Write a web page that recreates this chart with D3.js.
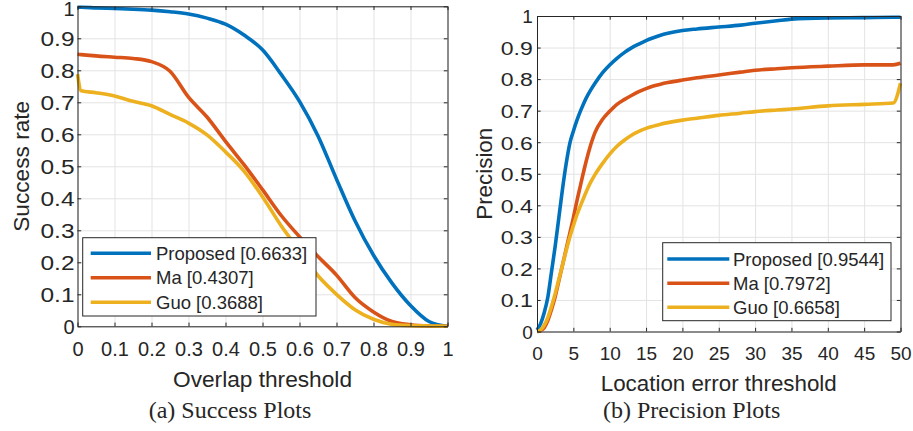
<!DOCTYPE html>
<html>
<head>
<meta charset="utf-8">
<script src="https://cdn.jsdelivr.net/npm/d3@7/dist/d3.min.js"></script>
<style>
  html, body { margin: 0; padding: 0; background: #fff; }
  svg { display: block; }
  text { fill: #262626; }
</style>
</head>
<body>
<svg id="chart" width="913" height="431"></svg>
<script>
// ---------- DATA ----------
const seriesNames = ["Proposed", "Ma", "Guo"];
const successAUC = ["0.6633", "0.4307", "0.3688"];
const precisionScore = ["0.9544", "0.7972", "0.6658"];

const overlapThresholds = [0, 0.01, 0.05, 0.1, 0.15, 0.2, 0.25, 0.3, 0.35, 0.4, 0.45, 0.5, 0.55, 0.6, 0.65, 0.7, 0.75, 0.8, 0.85, 0.9, 0.95, 1.0];
const successProposed = [0.997, 0.997, 0.995, 0.993, 0.991, 0.988, 0.983, 0.976, 0.963, 0.944, 0.910, 0.864, 0.788, 0.703, 0.595, 0.460, 0.330, 0.222, 0.135, 0.065, 0.015, 0.0];
const successMa       = [0.850, 0.849, 0.845, 0.841, 0.837, 0.827, 0.797, 0.716, 0.654, 0.578, 0.505, 0.427, 0.347, 0.280, 0.218, 0.160, 0.090, 0.045, 0.015, 0.005, 0.001, 0.0];
const successGuo      = [0.788, 0.736, 0.730, 0.720, 0.703, 0.689, 0.662, 0.635, 0.598, 0.545, 0.485, 0.405, 0.315, 0.236, 0.158, 0.100, 0.052, 0.022, 0.006, 0.002, 0.001, 0.0];

const errorThresholds = [0, 0.5, 1, 1.5, 2, 2.5, 3, 3.5, 4, 4.5, 5, 5.5, 6, 6.5, 7, 7.5, 8, 9, 10, 11, 12, 13, 14, 15, 16, 17, 18, 20, 22, 25, 28, 30, 33, 35, 40, 45, 49, 50];
const precisionProposed = [0.005, 0.025, 0.06, 0.11, 0.19, 0.27, 0.36, 0.45, 0.53, 0.595, 0.635, 0.67, 0.70, 0.727, 0.75, 0.77, 0.788, 0.82, 0.845, 0.866, 0.884, 0.899, 0.911, 0.922, 0.931, 0.939, 0.945, 0.954, 0.959, 0.965, 0.971, 0.977, 0.985, 0.99, 0.994, 0.995, 0.996, 0.996];
const precisionMa       = [0, 0.003, 0.012, 0.035, 0.07, 0.11, 0.16, 0.21, 0.26, 0.31, 0.36, 0.415, 0.465, 0.515, 0.56, 0.6, 0.632, 0.672, 0.698, 0.72, 0.735, 0.748, 0.76, 0.77, 0.778, 0.784, 0.789, 0.797, 0.804, 0.813, 0.822, 0.828, 0.833, 0.836, 0.841, 0.845, 0.845, 0.85];
const precisionGuo      = [0, 0.005, 0.02, 0.045, 0.08, 0.12, 0.165, 0.21, 0.255, 0.298, 0.335, 0.37, 0.40, 0.428, 0.455, 0.478, 0.498, 0.532, 0.562, 0.587, 0.606, 0.622, 0.634, 0.644, 0.651, 0.657, 0.662, 0.67, 0.676, 0.685, 0.692, 0.697, 0.702, 0.705, 0.715, 0.72, 0.724, 0.787];

const successXTicks = [0, 0.1, 0.2, 0.3, 0.4, 0.5, 0.6, 0.7, 0.8, 0.9, 1];
const precisionXTicks = [0, 5, 10, 15, 20, 25, 30, 35, 40, 45, 50];
const yTicks = [0, 0.1, 0.2, 0.3, 0.4, 0.5, 0.6, 0.7, 0.8, 0.9, 1];
const colors = ["#0072BD", "#D95319", "#EDB120"];

// ---------- DRAW ----------
const svg = d3.select("#chart");
const SANS = "'Liberation Sans', Arial, Helvetica, sans-serif";
const SERIF = "'Liberation Serif', 'Times New Roman', serif";

const panels = [
  {
    x: overlapThresholds, ys: [successProposed, successMa, successGuo],
    labels: successAUC, xTicks: successXTicks, xDomain: [0, 1],
    left: 77.5, right: 447.5, top: 6.3, bottom: 326.3,
    tickFont: 20, yTickLen: 34, yTickGap: 3, xTickBase: 29.7,
    xlabel: "Overlap threshold", xlabelLen: 179, xlabelY: 387,
    ylabel: "Success rate", ylabelLen: 131, ylabelX: 28.5,
    caption: "(a) Success Plots", captionX: 230,
    legend: { x0: 82.7, y0: 237.7, x1: 316, y1: 316, lineX0: 90.7, lineX1: 151, textX: 156, rows: [253.3, 277.7, 302.3] }
  },
  {
    x: errorThresholds, ys: [precisionProposed, precisionMa, precisionGuo],
    labels: precisionScore, xTicks: precisionXTicks, xDomain: [0, 50],
    left: 537, right: 900.5, top: 16, bottom: 331.5,
    tickFont: 19, yTickLen: 32, yTickGap: 4.3, xTickBase: 28.5,
    xlabel: "Location error threshold", xlabelLen: 236, xlabelY: 390.5,
    ylabel: "Precision", ylabelLen: 92, ylabelX: 491.5,
    caption: "(b) Precision Plots", captionX: 691.7,
    legend: { x0: 662.7, y0: 242.7, x1: 891, y1: 320.7, lineX0: 667.3, lineX1: 729.3, textX: 733, rows: [259, 283.3, 307.3] }
  }
];

const fmt = d => (d === 0 ? "0" : d === 1 ? "1" : String(d));

panels.forEach(p => {
  const xs = d3.scaleLinear().domain(p.xDomain).range([p.left, p.right]);
  const ys = d3.scaleLinear().domain([0, 1]).range([p.bottom, p.top]);
  const g = svg.append("g");

  // grid
  g.append("g").attr("transform", `translate(0,${p.bottom})`)
    .call(d3.axisBottom(xs).tickValues(p.xTicks).tickSize(-(p.bottom - p.top)).tickFormat(""))
    .call(a => a.select(".domain").remove())
    .call(a => a.selectAll("line").attr("stroke", "#e3e3e3").attr("stroke-width", 1));
  g.append("g").attr("transform", `translate(${p.left},0)`)
    .call(d3.axisLeft(ys).tickValues(yTicks).tickSize(-(p.right - p.left)).tickFormat(""))
    .call(a => a.select(".domain").remove())
    .call(a => a.selectAll("line").attr("stroke", "#e3e3e3").attr("stroke-width", 1));

  // curves
  const line = d3.line().x((d, i) => xs(p.x[i])).y(d => ys(d)).curve(d3.curveMonotoneX);
  p.ys.forEach((arr, k) => {
    g.append("path").datum(arr)
      .attr("d", line)
      .attr("fill", "none")
      .attr("stroke", colors[k])
      .attr("stroke-width", 3.6)
      .attr("stroke-linejoin", "round");
  });

  // axes box with inward ticks
  const axisColor = "#262626";
  const styleAxis = a => {
    a.select(".domain").attr("stroke", axisColor).attr("stroke-width", 1);
    a.selectAll(".tick line").attr("stroke", axisColor).attr("stroke-width", 1);
  };
  const bottomAx = g.append("g").attr("transform", `translate(0,${p.bottom})`)
    .call(d3.axisBottom(xs).tickValues(p.xTicks).tickSizeInner(-3.7).tickSizeOuter(0).tickFormat(fmt))
    .call(styleAxis);
  bottomAx.selectAll("text")
    .attr("font-family", SANS).attr("font-size", p.tickFont).attr("fill", "#262626")
    .attr("y", p.xTickBase).attr("dy", 0);
  g.append("g").attr("transform", `translate(0,${p.top})`)
    .call(d3.axisTop(xs).tickValues(p.xTicks).tickSizeInner(-3.7).tickSizeOuter(0).tickFormat(""))
    .call(styleAxis);
  const leftAx = g.append("g").attr("transform", `translate(${p.left},0)`)
    .call(d3.axisLeft(ys).tickValues(yTicks).tickSizeInner(-3.7).tickSizeOuter(0).tickFormat(fmt))
    .call(styleAxis);
  leftAx.selectAll("text")
    .attr("font-family", SANS).attr("font-size", p.tickFont).attr("fill", "#262626")
    .attr("x", -p.yTickGap)
    .attr("dy", d => (ys(d) - p.tickFont * 0.36 < 1 ? `${(1 - ys(d)) / p.tickFont + 0.72}em` : "0.36em"))
    .each(function(d) {
      const s = fmt(d);
      if (s.length > 1) d3.select(this).attr("textLength", p.yTickLen).attr("lengthAdjust", "spacingAndGlyphs");
    });
  g.append("g").attr("transform", `translate(${p.right},0)`)
    .call(d3.axisRight(ys).tickValues(yTicks).tickSizeInner(-3.7).tickSizeOuter(0).tickFormat(""))
    .call(styleAxis);

  // axis labels
  g.append("text").text(p.xlabel)
    .attr("x", (p.left + p.right) / 2).attr("y", p.xlabelY)
    .attr("text-anchor", "middle").attr("font-family", SANS).attr("font-size", 22)
    .attr("textLength", p.xlabelLen).attr("lengthAdjust", "spacingAndGlyphs");
  g.append("text").text(p.ylabel)
    .attr("transform", `translate(${p.ylabelX},${(p.top + p.bottom) / 2}) rotate(-90)`)
    .attr("text-anchor", "middle").attr("font-family", SANS).attr("font-size", 22)
    .attr("textLength", p.ylabelLen).attr("lengthAdjust", "spacingAndGlyphs");

  // legend
  const L = p.legend;
  const lg = g.append("g");
  lg.append("rect").attr("x", L.x0).attr("y", L.y0).attr("width", L.x1 - L.x0).attr("height", L.y1 - L.y0)
    .attr("fill", "#fff").attr("stroke", "#262626").attr("stroke-width", 1);
  seriesNames.forEach((name, k) => {
    lg.append("line").attr("x1", L.lineX0).attr("x2", L.lineX1).attr("y1", L.rows[k]).attr("y2", L.rows[k])
      .attr("stroke", colors[k]).attr("stroke-width", 3.6);
    lg.append("text").text(`${name} [${p.labels[k]}]`)
      .attr("x", L.textX).attr("y", L.rows[k]).attr("dy", "0.36em")
      .attr("font-family", SANS).attr("font-size", 18.5);
  });

  // caption
  g.append("text").text(p.caption)
    .attr("x", p.captionX).attr("y", 418)
    .attr("text-anchor", "middle").attr("font-family", SERIF).attr("font-size", 24).attr("fill", "#000");
});
</script>
</body>
</html>
